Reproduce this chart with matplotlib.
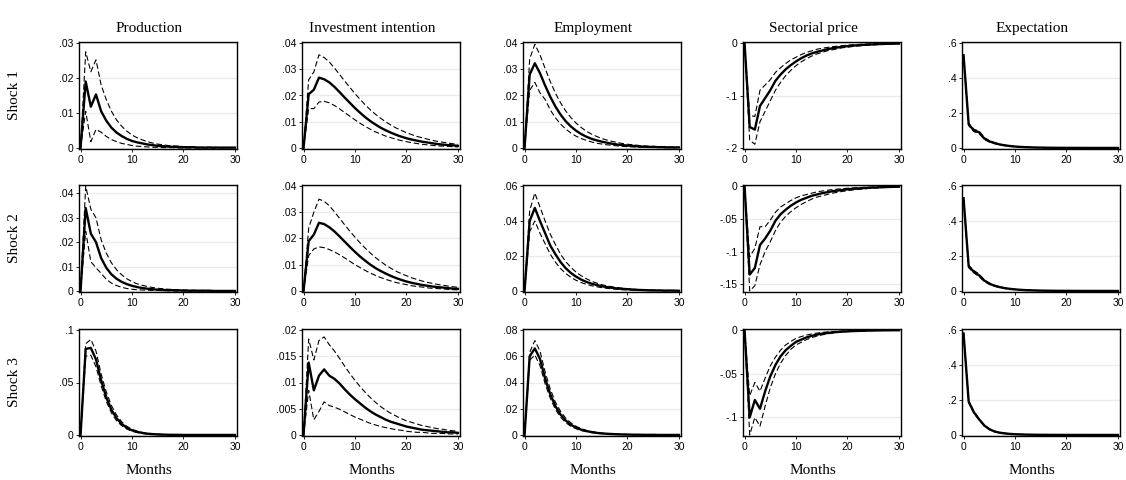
import numpy as np
import matplotlib
matplotlib.use("Agg")
import matplotlib.pyplot as plt
from matplotlib.ticker import FuncFormatter

months = list(range(31))
variables = ["Production", "Investment intention", "Employment", "Sectorial price", "Expectation"]
shocks = ["Shock 1", "Shock 2", "Shock 3"]
xticks = [0, 10, 20, 30]

# ---- shock 1 ----
prod1_irf = [0, .019, .0118, .0153, .0105, .0078, .0058, .0044, .0034, .0026, .002, .0016, .0013, .001, .0008, .0006, .0005, .0004, .0003, .0003, .0002, .0002, .0002, .0001, .0001, .0001, .0001, .0001, .0001, .0001, .0001]
prod1_hi = [0, .0275, .0218, .0252, .018, .0138, .0105, .008, .0062, .0048, .0037, .0029, .0023, .0018, .0014, .0011, .0009, .0007, .0006, .0005, .0004, .0003, .0003, .0002, .0002, .0002, .0002, .0001, .0001, .0001, .0001]
prod1_lo = [0, .0105, .0018, .0053, .0045, .0033, .0024, .0018, .0013, .001, .0007, .0005, .0004, .0003, .0002, .0002, .0001, .0001, .0001, 0, 0, 0, 0, 0, 0, 0, 0, 0, 0, 0, 0]

inv1_irf = [0, .0205, .0222, .0268, .0262, .025, .0233, .0213, .0192, .0172, .0152, .0134, .0117, .0102, .0089, .0077, .0067, .0058, .005, .0043, .0037, .0032, .0028, .0024, .0021, .0018, .0015, .0013, .0011, .001, .0008]
inv1_hi = [0, .026, .029, .0355, .0345, .0328, .0305, .028, .0255, .0231, .0207, .0185, .0164, .0145, .0128, .0113, .0099, .0087, .0076, .0067, .0058, .0051, .0044, .0039, .0034, .0029, .0025, .0022, .0019, .0016, .0014]
inv1_lo = [0, .015, .015, .0175, .0178, .0172, .0162, .0149, .0135, .0121, .0107, .0094, .0082, .0071, .0061, .0053, .0045, .0039, .0033, .0028, .0024, .002, .0017, .0014, .0012, .001, .0008, .0007, .0006, .0005, .0004]

emp1_irf = [0, .028, .0323, .0285, .0238, .0195, .0158, .0127, .0102, .0082, .0066, .0053, .0043, .0035, .0029, .0024, .002, .0016, .0013, .0011, .0009, .0008, .0006, .0005, .0004, .0004, .0003, .0003, .0002, .0002, .0002]
emp1_hi = [0, .034, .0395, .0355, .0303, .0253, .0209, .0172, .0141, .0116, .0095, .0078, .0064, .0053, .0044, .0036, .003, .0025, .0021, .0017, .0014, .0012, .001, .0008, .0007, .0006, .0005, .0004, .0004, .0003, .0003]
emp1_lo = [0, .022, .025, .021, .0185, .0145, .0115, .0091, .0072, .0057, .0045, .0036, .0029, .0023, .0018, .0015, .0012, .001, .0008, .0006, .0005, .0004, .0003, .0003, .0002, .0002, .0002, .0001, .0001, .0001, .0001]

price1_irf = [0, -.16, -.165, -.12, -.105, -.09, -.072, -.06, -.05, -.042, -.035, -.029, -.024, -.02, -.017, -.0145, -.012, -.01, -.0085, -.007, -.006, -.005, -.0042, -.0035, -.003, -.0025, -.002, -.0017, -.0014, -.0012, -.001]
price1_hi = [0, -.138, -.14, -.09, -.08, -.07, -.056, -.047, -.039, -.032, -.027, -.022, -.018, -.015, -.012, -.01, -.0085, -.007, -.006, -.005, -.004, -.0034, -.0028, -.0023, -.0019, -.0016, -.0013, -.0011, -.0009, -.0007, -.0006]
price1_lo = [0, -.185, -.193, -.15, -.13, -.11, -.09, -.075, -.062, -.052, -.043, -.036, -.03, -.025, -.021, -.018, -.015, -.013, -.011, -.009, -.008, -.0066, -.0056, -.0047, -.004, -.0034, -.0029, -.0024, -.002, -.0017, -.0015]

exp1_irf = [.53, .135, .1, .09, .055, .038, .028, .02, .015, .011, .008, .006, .0045, .0034, .0025, .002, .0015, .0011, .0008, .0006, .0005, .0004, .0003, .0002, .0002, .0001, .0001, .0001, .0001, 0, 0]
exp1_hi = [.535, .142, .107, .097, .06, .042, .031, .022, .017, .012, .009, .007, .005, .0038, .0028, .0022, .0017, .0012, .0009, .0007, .0006, .0004, .0003, .0003, .0002, .0002, .0001, .0001, .0001, .0001, .0001]
exp1_lo = [.525, .128, .094, .083, .05, .034, .025, .018, .013, .01, .007, .005, .004, .003, .0022, .0018, .0013, .001, .0007, .0005, .0004, .0003, .0002, .0002, .0001, .0001, .0001, 0, 0, 0, 0]

# ---- shock 2 ----
prod2_irf = [0, .034, .0235, .02, .0135, .0095, .0068, .005, .0037, .0028, .0021, .0016, .0012, .0009, .0007, .0005, .0004, .0003, .0003, .0002, .0002, .0001, .0001, .0001, .0001, .0001, 0, 0, 0, 0, 0]
prod2_hi = [0, .043, .0335, .03, .021, .0155, .0115, .0087, .0066, .005, .0038, .0029, .0023, .0018, .0014, .0011, .0009, .0007, .0006, .0005, .0004, .0003, .0003, .0002, .0002, .0002, .0001, .0001, .0001, .0001, .0001]
prod2_lo = [0, .0245, .012, .0095, .0072, .0048, .0032, .0022, .0015, .001, .0007, .0005, .0004, .0003, .0002, .0002, .0001, .0001, 0, 0, 0, 0, 0, 0, 0, 0, 0, 0, 0, 0, 0]

inv2_irf = [0, .019, .0215, .026, .0255, .0243, .0227, .0208, .0188, .0168, .0149, .0131, .0115, .01, .0087, .0076, .0066, .0057, .0049, .0042, .0036, .0031, .0027, .0023, .002, .0017, .0015, .0013, .0011, .0009, .0008]
inv2_hi = [0, .024, .03, .035, .0342, .0325, .0302, .0277, .0252, .0228, .0205, .0183, .0163, .0144, .0127, .0112, .0098, .0086, .0075, .0066, .0058, .005, .0044, .0038, .0033, .0029, .0025, .0022, .0019, .0016, .0014]
inv2_lo = [0, .0135, .016, .0168, .0165, .0158, .0149, .0138, .0126, .0113, .01, .0089, .0078, .0068, .0059, .0051, .0044, .0038, .0032, .0028, .0024, .002, .0017, .0015, .0012, .001, .0009, .0008, .0006, .0005, .0004]

emp2_irf = [0, .04, .0475, .04, .033, .026, .021, .0165, .013, .0103, .0082, .0065, .0052, .0042, .0034, .0027, .0022, .0018, .0014, .0012, .001, .0008, .0006, .0005, .0004, .0003, .0003, .0002, .0002, .0002, .0001]
emp2_hi = [0, .046, .056, .048, .04, .0325, .0265, .021, .0168, .0135, .0108, .0087, .007, .0056, .0045, .0036, .0029, .0024, .0019, .0016, .0013, .001, .0008, .0007, .0006, .0005, .0004, .0003, .0003, .0002, .0002]
emp2_lo = [0, .034, .04, .033, .027, .021, .0165, .0128, .01, .0078, .0061, .0048, .0038, .003, .0024, .0019, .0015, .0012, .0009, .0007, .0006, .0005, .0004, .0003, .0002, .0002, .0002, .0001, .0001, .0001, .0001]

price2_irf = [0, -.135, -.125, -.09, -.08, -.068, -.053, -.043, -.036, -.03, -.025, -.021, -.018, -.015, -.013, -.011, -.0095, -.008, -.007, -.006, -.005, -.0043, -.0037, -.0032, -.0027, -.0023, -.002, -.0017, -.0014, -.0012, -.001]
price2_hi = [0, -.108, -.095, -.062, -.062, -.052, -.04, -.032, -.027, -.022, -.018, -.015, -.013, -.011, -.009, -.0077, -.0065, -.0055, -.0047, -.004, -.0034, -.0029, -.0025, -.0021, -.0018, -.0015, -.0013, -.0011, -.0009, -.0007, -.0006]
price2_lo = [0, -.16, -.152, -.12, -.1, -.085, -.068, -.055, -.046, -.039, -.033, -.028, -.024, -.02, -.017, -.015, -.013, -.011, -.0095, -.0082, -.007, -.006, -.0051, -.0044, -.0038, -.0032, -.0027, -.0023, -.002, -.0017, -.0015]

exp2_irf = [.53, .14, .11, .09, .06, .042, .03, .022, .016, .012, .009, .0065, .0048, .0036, .0027, .002, .0015, .0011, .0008, .0006, .0005, .0004, .0003, .0002, .0002, .0001, .0001, .0001, .0001, 0, 0]
exp2_hi = [.535, .147, .117, .097, .065, .046, .033, .024, .018, .013, .01, .0072, .0053, .004, .003, .0022, .0017, .0012, .0009, .0007, .0006, .0004, .0003, .0003, .0002, .0002, .0001, .0001, .0001, .0001, .0001]
exp2_lo = [.525, .133, .103, .083, .055, .038, .027, .02, .014, .011, .008, .0058, .0043, .0032, .0024, .0018, .0013, .001, .0007, .0005, .0004, .0003, .0002, .0002, .0001, .0001, .0001, 0, 0, 0, 0]

# ---- shock 3 ----
prod3_irf = [0, .082, .083, .072, .052, .036, .024, .016, .0105, .0068, .0044, .0029, .0019, .0012, .0008, .0005, .0003, .0002, .0001, .0001, 0, 0, 0, 0, 0, 0, 0, 0, 0, 0, 0]
prod3_hi = [0, .087, .091, .08, .058, .041, .028, .019, .0125, .0082, .0054, .0036, .0024, .0016, .001, .0007, .0005, .0003, .0002, .0001, .0001, 0, 0, 0, 0, 0, 0, 0, 0, 0, 0]
prod3_lo = [0, .075, .076, .065, .047, .032, .021, .0135, .0088, .0056, .0036, .0023, .0015, .0009, .0006, .0004, .0002, .0001, .0001, 0, 0, 0, 0, 0, 0, 0, 0, 0, 0, 0, 0]

inv3_irf = [0, .0138, .0085, .0113, .0125, .0113, .0107, .0098, .0087, .0077, .0068, .006, .0052, .0045, .0039, .0034, .0029, .0025, .0022, .0019, .0016, .0014, .0012, .001, .0009, .0008, .0007, .0006, .0005, .0005, .0004]
inv3_hi = [0, .0183, .0143, .018, .0187, .0172, .016, .0146, .0131, .0117, .0104, .0092, .0081, .0071, .0062, .0054, .0047, .0041, .0036, .0031, .0027, .0024, .0021, .0018, .0016, .0014, .0012, .0011, .0009, .0008, .0007]
inv3_lo = [0, .0085, .0029, .0045, .0063, .0056, .0053, .0049, .0044, .0039, .0034, .003, .0026, .0022, .0019, .0016, .0014, .0012, .001, .0009, .0007, .0006, .0005, .0005, .0004, .0003, .0003, .0003, .0002, .0002, .0002]

emp3_irf = [0, .06, .066, .058, .043, .031, .022, .0155, .011, .0078, .0056, .004, .003, .0022, .0016, .0012, .0009, .0007, .0005, .0004, .0003, .0002, .0002, .0001, .0001, .0001, 0, 0, 0, 0, 0]
emp3_hi = [0, .063, .072, .064, .048, .035, .025, .018, .0128, .0092, .0066, .0048, .0035, .0026, .0019, .0014, .0011, .0008, .0006, .0005, .0004, .0003, .0002, .0002, .0001, .0001, .0001, 0, 0, 0, 0]
emp3_lo = [0, .057, .061, .053, .039, .028, .0195, .0135, .0094, .0066, .0047, .0034, .0025, .0018, .0013, .001, .0007, .0005, .0004, .0003, .0002, .0002, .0001, .0001, .0001, 0, 0, 0, 0, 0, 0]

price3_irf = [0, -.1, -.08, -.09, -.07, -.053, -.04, -.03, -.023, -.018, -.0135, -.011, -.0085, -.0067, -.0053, -.0042, -.0034, -.0027, -.0022, -.0018, -.0014, -.0012, -.001, -.0008, -.0006, -.0005, -.0004, -.0003, -.0003, -.0002, -.0002]
price3_hi = [0, -.075, -.06, -.07, -.055, -.041, -.031, -.023, -.017, -.013, -.0095, -.0075, -.0058, -.0045, -.0035, -.0028, -.0022, -.0017, -.0014, -.0011, -.0009, -.0007, -.0006, -.0005, -.0004, -.0003, -.0002, -.0002, -.0001, -.0001, -.0001]
price3_lo = [0, -.12, -.1, -.11, -.087, -.066, -.05, -.038, -.029, -.022, -.017, -.014, -.011, -.0088, -.007, -.0056, -.0045, -.0036, -.0029, -.0024, -.0019, -.0016, -.0013, -.0011, -.0009, -.0007, -.0006, -.0005, -.0004, -.0003, -.0003]

exp3_irf = [.58, .19, .13, .09, .055, .033, .02, .013, .009, .006, .004, .003, .002, .0015, .001, .0008, .0006, .0004, .0003, .0002, .0002, .0001, .0001, .0001, 0, 0, 0, 0, 0, 0, 0]
exp3_hi = [.585, .195, .135, .094, .058, .035, .022, .014, .01, .0067, .0045, .0034, .0023, .0017, .0012, .0009, .0007, .0005, .0004, .0003, .0002, .0002, .0001, .0001, .0001, 0, 0, 0, 0, 0, 0]
exp3_lo = [.575, .185, .125, .086, .052, .031, .018, .012, .008, .0053, .0035, .0026, .0017, .0013, .0008, .0007, .0005, .0003, .0002, .0002, .0001, .0001, 0, 0, 0, 0, 0, 0, 0, 0, 0]

# y ticks per panel (row = shock, column = variable)
yticks = [
    [[0, .01, .02, .03], [0, .01, .02, .03, .04], [0, .01, .02, .03, .04], [-.2, -.1, 0], [0, .2, .4, .6]],
    [[0, .01, .02, .03, .04], [0, .01, .02, .03, .04], [0, .02, .04, .06], [-.15, -.1, -.05, 0], [0, .2, .4, .6]],
    [[0, .05, .1], [0, .005, .01, .015, .02], [0, .02, .04, .06, .08], [-.1, -.05, 0], [0, .2, .4, .6]],
]

panels = [
    [(prod1_irf, prod1_lo, prod1_hi), (inv1_irf, inv1_lo, inv1_hi), (emp1_irf, emp1_lo, emp1_hi),
     (price1_irf, price1_lo, price1_hi), (exp1_irf, exp1_lo, exp1_hi)],
    [(prod2_irf, prod2_lo, prod2_hi), (inv2_irf, inv2_lo, inv2_hi), (emp2_irf, emp2_lo, emp2_hi),
     (price2_irf, price2_lo, price2_hi), (exp2_irf, exp2_lo, exp2_hi)],
    [(prod3_irf, prod3_lo, prod3_hi), (inv3_irf, inv3_lo, inv3_hi), (emp3_irf, emp3_lo, emp3_hi),
     (price3_irf, price3_lo, price3_hi), (exp3_irf, exp3_lo, exp3_hi)],
]


def stata_fmt(v, pos):
    if abs(v) < 1e-12:
        return "0"
    s = ("%g" % v)
    return s.replace("0.", ".")


W, H = 1126, 480
fig = plt.figure(figsize=(W / 100, H / 100), dpi=100)
fig.patch.set_facecolor("white")

lefts = [79, 302, 523, 743, 962]
tops = [42, 185, 329]
aw, ah = 158, 107
serif = "Liberation Serif"
sans = "Liberation Sans"
# titles in the reference sit a little left of the plot centre
title_x = 0.5 - 9 / aw

for r in range(3):
    for c in range(5):
        ax = fig.add_axes([lefts[c] / W, 1 - (tops[r] + ah) / H, aw / W, ah / H])
        irf, lo, hi = panels[r][c]
        ax.plot(months, hi, color="black", lw=0.8, dashes=(5, 2.5))
        ax.plot(months, lo, color="black", lw=0.8, dashes=(5, 2.5))
        ax.plot(months, irf, color="black", lw=1.7)
        yt = yticks[r][c]
        vals = np.concatenate([irf, lo, hi, yt])
        ymin, ymax = vals.min(), vals.max()
        pad = (ymax - ymin) * 0.01
        ax.set_ylim(ymin - pad, ymax + pad)
        ax.set_xlim(-0.3, 30.4)
        ax.set_yticks(yt)
        ax.set_xticks(xticks)
        ax.yaxis.set_major_formatter(FuncFormatter(stata_fmt))
        ax.grid(axis="y", color="#ebebeb", lw=1.0)
        ax.set_axisbelow(True)
        ax.tick_params(direction="out", length=2.5, width=0.6, pad=1.5, labelsize=7.5)
        for lab in ax.get_xticklabels() + ax.get_yticklabels():
            lab.set_fontfamily(sans)
        for sp in ax.spines.values():
            sp.set_linewidth(1.0)
            sp.set_color("black")
        if r == 0:
            ax.set_title(variables[c], fontsize=11, family=serif, pad=7, x=title_x)
        if r == 2:
            ax.set_xlabel("Months", fontsize=11, family=serif, labelpad=9)
            ax.xaxis.label.set_x(title_x)
        if c == 0:
            fig.text(14 / W, 1 - (tops[r] + ah / 2) / H, shocks[r], rotation=90,
                     ha="center", va="center", fontsize=11, family=serif)

fig.savefig("out.png", dpi=100, facecolor="white")
